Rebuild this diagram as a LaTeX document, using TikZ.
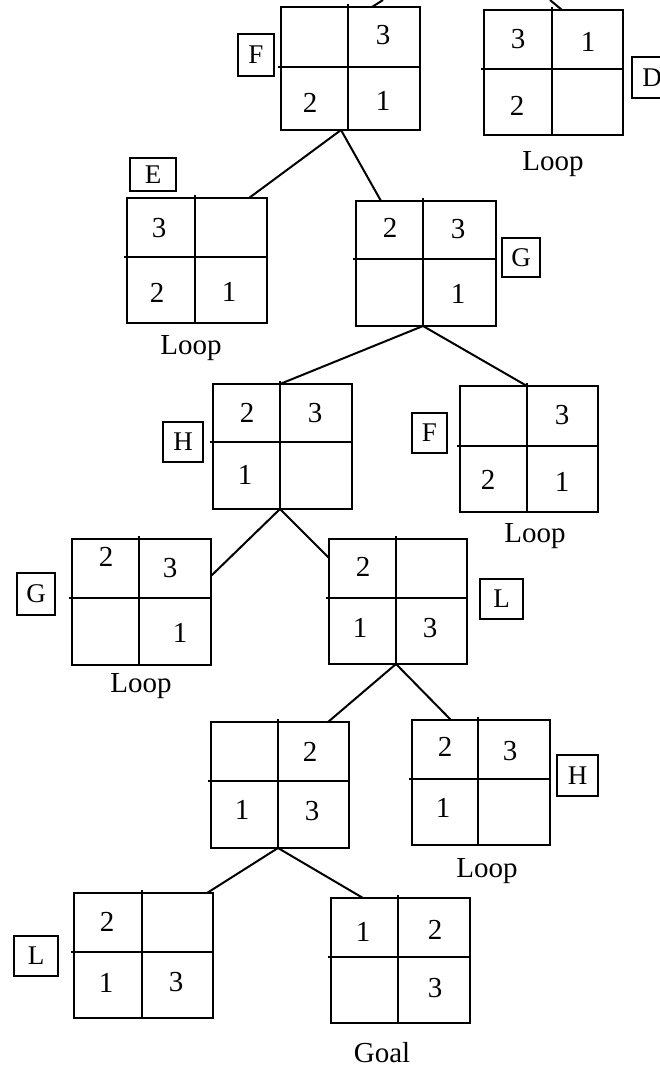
\documentclass[tikz,border=0pt]{standalone}
\usepackage{fontspec}
\setmainfont{Liberation Serif}
\usetikzlibrary{fit}
\tikzset{
 board/.style={draw, line width=2pt, inner sep=0pt},
 grid/.style={line width=2pt},
 edge/.style={line width=2pt},
 lbl/.style={draw, line width=2pt, inner sep=0pt, font=\fontsize{27}{32}\selectfont},
 num/.style={inner sep=0pt, font=\fontsize{29}{34}\selectfont},
 note/.style={inner sep=0pt, anchor=base, font=\fontsize{29}{34}\selectfont},
}
% \board{name}{left}{top}{right}{bottom}{vertical divider x}{horizontal divider y}
\newcommand\board[7]{%
 \coordinate (#1-nw) at (#2,#3);
 \coordinate (#1-se) at (#4,#5);
 \node[board, fit=(#1-nw)(#1-se)] (#1) {};
 \draw[grid] (#2-3,#7) -- (#4,#7);
 \draw[grid] (#6,#3-3) -- (#6,#5);
 \coordinate (#1-vt) at (#6,#3);
 \coordinate (#1-vb) at (#6,#5);
}
\begin{document}
\begin{tikzpicture}[x=1pt, y=-1pt]
\useasboundingbox (0,0) rectangle (660,1069);

% boards
\board{bF1}{281}{7}{420}{130}{348}{67}
\board{bD}{484}{10}{623}{135}{552}{69}
\board{bE}{127}{198}{267}{323}{195}{257}
\board{bG}{356}{201}{496}{326}{423}{259}
\board{bH}{213}{384}{352}{509}{280}{442}
\board{bFb}{460}{386}{598}{512}{527}{446}
\board{bGb}{72}{539}{211}{665}{139}{598}
\board{bL}{329}{539}{467}{664}{396}{598}
\board{bM}{211}{722}{349}{848}{278}{781}
\board{bHb}{412}{720}{550}{845}{478}{779}
\board{bLb}{74}{893}{213}{1018}{142}{952}
\board{bGoal}{331}{898}{470}{1023}{398}{957}

% digits
\node[num] (nF1a) at (383,35) {3};
\node[num] (nF1b) at (310,103) {2};
\node[num] (nF1c) at (383,101) {1};
\node[num] (nDa) at (518,39) {3};
\node[num] (nDb) at (588,42) {1};
\node[num] (nDc) at (517,106) {2};
\node[num] (nEa) at (159,228) {3};
\node[num] (nEb) at (157,293) {2};
\node[num] (nEc) at (229,292) {1};
\node[num] (nGa) at (390,228) {2};
\node[num] (nGb) at (458,229) {3};
\node[num] (nGc) at (458,294) {1};
\node[num] (nHa) at (247,413) {2};
\node[num] (nHb) at (315,413) {3};
\node[num] (nHc) at (245,475) {1};
\node[num] (nFba) at (562,415) {3};
\node[num] (nFbb) at (488,480) {2};
\node[num] (nFbc) at (562,482) {1};
\node[num] (nGba) at (106,557) {2};
\node[num] (nGbb) at (170,568) {3};
\node[num] (nGbc) at (180,633) {1};
\node[num] (nLa) at (363,567) {2};
\node[num] (nLb) at (360,628) {1};
\node[num] (nLc) at (430,628) {3};
\node[num] (nMa) at (310,752) {2};
\node[num] (nMb) at (242,810) {1};
\node[num] (nMc) at (312,811) {3};
\node[num] (nHba) at (445,747) {2};
\node[num] (nHbb) at (510,751) {3};
\node[num] (nHbc) at (443,808) {1};
\node[num] (nLba) at (107,922) {2};
\node[num] (nLbb) at (106,983) {1};
\node[num] (nLbc) at (176,982) {3};
\node[num] (nGoa) at (363,932) {1};
\node[num] (nGob) at (435,930) {2};
\node[num] (nGoc) at (435,988) {3};

% state labels
\node[lbl, minimum width=36pt, minimum height=42pt] (lF1) at (256,55) {F};
\node[lbl, minimum width=40pt, minimum height=41pt] (lD) at (652,77.5) {D};
\node[lbl, minimum width=46pt, minimum height=33pt] (lE) at (153,174.5) {E};
\node[lbl, minimum width=38pt, minimum height=39pt] (lG) at (521,257.5) {G};
\node[lbl, minimum width=40pt, minimum height=40pt] (lH) at (183,442) {H};
\node[lbl, minimum width=35pt, minimum height=40pt] (lFb) at (429.5,433) {F};
\node[lbl, minimum width=38pt, minimum height=42pt] (lGb) at (36,594) {G};
\node[lbl, minimum width=43pt, minimum height=40pt] (lL) at (501.5,599) {L};
\node[lbl, minimum width=41pt, minimum height=41pt] (lHb) at (577.5,775.5) {H};
\node[lbl, minimum width=44pt, minimum height=40pt] (lLb) at (36,956) {L};

% notes
\node[note] (tD) at (553,170) {Loop};
\node[note] (tE) at (191,354) {Loop};
\node[note] (tFb) at (535,542) {Loop};
\node[note] (tGb) at (141,692) {Loop};
\node[note] (tHb) at (487,877) {Loop};
\node[note] (tGoal) at (382,1062) {Goal};

% connector end points
\coordinate (upF) at (383,0);
\coordinate (bF1-a) at (372,7);
\coordinate (upD) at (550,0);
\coordinate (bD-a) at (562,10);
\coordinate (bF1-j) at (341,130);
\coordinate (bE-a) at (249,198);
\coordinate (bG-a) at (381,201);
\coordinate (bGb-a) at (211,576);
\coordinate (bL-a) at (329,558);
\coordinate (bM-a) at (328,722);
\coordinate (bHb-a) at (451,720);
\coordinate (bLb-a) at (207,893);
\coordinate (bGoal-a) at (363,898);

% connectors
\draw[edge] (bF1-a) -- (upF);
\draw[edge] (bD-a) -- (upD);
\draw[edge] (bF1-j) -- (bE-a);
\draw[edge] (bF1-j) -- (bG-a);
\draw[edge] (bG-vb) -- (bH-vt);
\draw[edge] (bG-vb) -- (bFb-vt);
\draw[edge] (bH-vb) -- (bGb-a);
\draw[edge] (bH-vb) -- (bL-a);
\draw[edge] (bL-vb) -- (bM-a);
\draw[edge] (bL-vb) -- (bHb-a);
\draw[edge] (bM-vb) -- (bLb-a);
\draw[edge] (bM-vb) -- (bGoal-a);
\end{tikzpicture}
\end{document}
